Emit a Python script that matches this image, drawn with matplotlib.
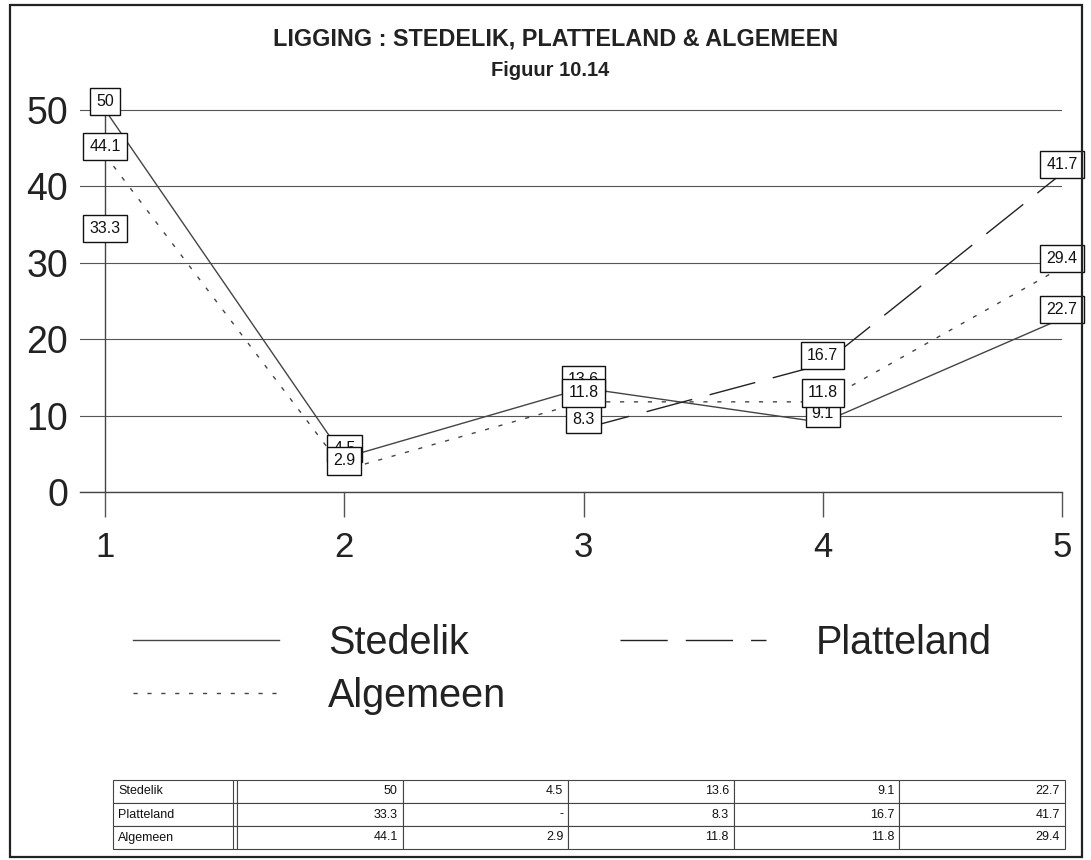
import numpy as np
import matplotlib.pyplot as plt
from matplotlib.patches import Rectangle

plt.rcParams['font.family'] = ['Liberation Sans', 'DejaVu Sans']

# data
categories = [1, 2, 3, 4, 5]
series_names = ['Stedelik', 'Platteland', 'Algemeen']
stedelik = [50, 4.5, 13.6, 9.1, 22.7]
platteland = [33.3, np.nan, 8.3, 16.7, 41.7]
algemeen = [44.1, 2.9, 11.8, 11.8, 29.4]
yticks = [0, 10, 20, 30, 40, 50]

title = 'LIGGING : STEDELIK, PLATTELAND & ALGEMEEN'
subtitle = 'Figuur 10.14'

W, H = 1091, 860
fig = plt.figure(figsize=(W / 100, H / 100), dpi=100)

# outer frame
fig.patches.append(Rectangle((10 / W, 3 / H), 1072 / W, 852 / H, transform=fig.transFigure,
                             fill=False, edgecolor='#222222', linewidth=1.6))

# plot area: x=1 at 105px, x=5 at 1062px, y=0 at 492px, y=50 at 110px
ax = fig.add_axes([80 / W, (H - 492) / H, 982 / W, (492 - 94.7) / H])
ax.set_xlim(0.895, 5.0)
ax.set_ylim(0, 52)

styles = {
    'Stedelik': dict(color='#444444', linestyle='-'),
    'Platteland': dict(color='#222222', linestyle=(0, (34, 13))),
    'Algemeen': dict(color='#444444', linestyle=(0, (3, 7))),
}
values = {'Stedelik': stedelik, 'Platteland': platteland, 'Algemeen': algemeen}

handles = {}
for name in series_names:
    ln, = ax.plot(categories, values[name], linewidth=1, clip_on=False, label=name, **styles[name])
    handles[name] = ln

# value labels (Algemeen drawn last so it sits on top)
for name in series_names:
    for x, v in zip(categories, values[name]):
        if np.isnan(v):
            continue
        ax.annotate(f'{v:g}', (x, v), xytext=(0, 1), textcoords='offset points',
                    ha='center', va='bottom', fontsize=11.5, color='#111111', zorder=5,
                    annotation_clip=False,
                    bbox=dict(boxstyle='square,pad=0.38', facecolor='white',
                              edgecolor='#111111', linewidth=1))

# axes styling
for s in ['top', 'right', 'left']:
    ax.spines[s].set_visible(False)
ax.spines['bottom'].set_color('#444444')
ax.spines['bottom'].set_linewidth(1)
ax.axvline(1, ymin=0, ymax=50 / 52, color='#444444', linewidth=1)

ax.set_yticks(yticks)
ax.grid(axis='y', color='#555555', linewidth=0.8)
ax.tick_params(axis='y', length=0, pad=8.5, labelsize=27, labelcolor='#222222')
ax.set_xticks(categories)
ax.tick_params(axis='x', direction='out', length=18, width=1, color='#555555', pad=10,
               labelsize=25, labelcolor='#222222')

fig.text(556 / W, 1 - 39 / H, title, ha='center', va='center', fontsize=16.8,
         fontweight='bold', color='#222222')
fig.text(550 / W, 1 - 71 / H, subtitle, ha='center', va='center', fontsize=14.5,
         fontweight='bold', color='#222222')

leg = fig.legend([handles['Stedelik'], handles['Algemeen'], handles['Platteland']],
                 ['Stedelik', 'Algemeen', 'Platteland'], ncol=2, frameon=False,
                 loc='upper left', bbox_to_anchor=(133 / W, 1 - 624 / H), borderpad=0,
                 borderaxespad=0, fontsize=28.5, handlelength=3.69, handletextpad=1.24,
                 columnspacing=2.88, labelspacing=0.37)
for t in leg.get_texts():
    t.set_color('#222222')

# data table
tax = fig.add_axes([113 / W, 11 / H, 952 / W, 69 / H])
tax.axis('off')
cell_text = [[name] + ['-' if np.isnan(v) else f'{v:g}' for v in values[name]]
             for name in series_names]
col_w = [124 / 952] + [165.6 / 952] * 5
tbl = tax.table(cellText=cell_text, colWidths=col_w, loc='center', bbox=[0, 0, 1, 1])
tbl.auto_set_font_size(False)
for (r, c), cell in tbl.get_celld().items():
    cell.set_linewidth(0.8)
    cell.set_edgecolor('#444444')
    cell.get_text().set_fontsize(9)
    cell.get_text().set_color('#111111')
    if c == 0:
        cell.get_text().set_ha('left')
        cell.PAD = 0.04
        cell._loc = 'left'
    else:
        cell.get_text().set_ha('right')
        cell.PAD = 0.03
        cell._loc = 'right'
tax.axvline(120 / 952, color='#444444', linewidth=0.8)

fig.savefig('out.png', dpi=100)
